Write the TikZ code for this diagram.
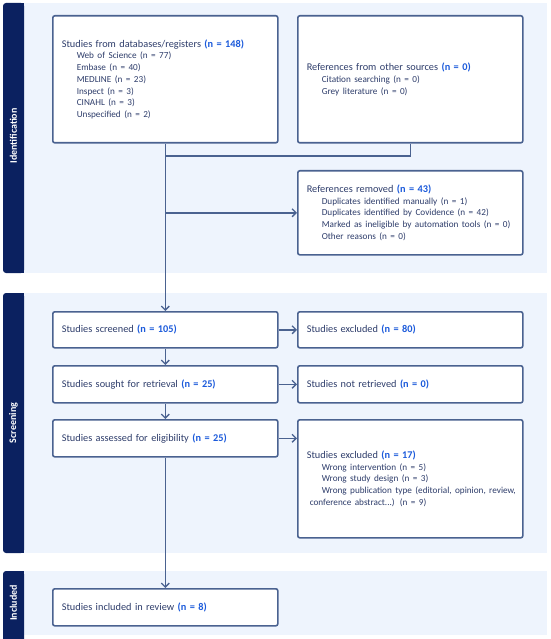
\documentclass[tikz,border=0pt]{standalone}
\usepackage{fontspec}
\setmainfont{Carlito}
\usetikzlibrary{arrows.meta,positioning}
\definecolor{bandnavy}{HTML}{0B2160}
\definecolor{panelblue}{HTML}{EEF4FD}
\definecolor{boxline}{HTML}{4A6290}
\definecolor{textnavy}{HTML}{2E3D6B}
\definecolor{countblue}{HTML}{1B5ADB}
\newcommand{\cnt}[1]{\textcolor{countblue}{\textbf{#1}}}
\newcommand{\subitm}{\fontsize{9.2}{11.7}\selectfont\hspace*{15pt}}
\tikzset{
	stagebox/.style={draw=boxline, line width=1.6pt, rounded corners=2pt, fill=white,
		text=textnavy, align=left, text width=207pt, inner xsep=9pt, inner ysep=0pt,
		anchor=north west, font=\fontsize{10.3}{11.7}\selectfont},
	flow/.style={draw=boxline, line width=1.6pt},
	flowarrow/.style={flow, -{Straight Barb[length=4pt,width=8pt,line width=1.3pt]}},
	bandlabel/.style={rotate=90, text=white, font=\fontsize{10}{12}\bfseries\selectfont}
}
\begin{document}
\begin{tikzpicture}[x=1pt,y=-1pt]
	\useasboundingbox (0,0) rectangle (550,639);
	% phase panels
	\fill[panelblue] (24,3) rectangle (547,273);
	\fill[panelblue] (24,293) rectangle (547,553);
	\fill[panelblue] (24,571) rectangle (547,635);
	\fill[bandnavy, rounded corners=3pt] (3,3) rectangle (24,273);
	\fill[bandnavy, rounded corners=3pt] (3,293) rectangle (24,553);
	\fill[bandnavy, rounded corners=3pt] (3,571) rectangle (24,645);
	\fill[bandnavy] (14,3) rectangle (24,273);
	\fill[bandnavy] (14,293) rectangle (24,553);
	\fill[bandnavy] (14,571) rectangle (24,635);
	\node[bandlabel] (lid) at (13.5,136) {Identification};
	\node[bandlabel] (lsc) at (13.5,423) {Screening};
	\node[bandlabel] (lin) at (13.5,603) {Included};

	% identification
	\node[stagebox, minimum height=127pt] (dbs) at (52,15) {Studies from databases/registers \cnt{(n = 148)}\\
		\subitm Web of Science (n = 77)\\
		\subitm Embase (n = 40)\\
		\subitm MEDLINE (n = 23)\\
		\subitm Inspect (n = 3)\\
		\subitm CINAHL (n = 3)\\
		\subitm Unspecified (n = 2)};
	\node[stagebox, minimum height=127pt] (other) at (297,15) {References from other sources \cnt{(n = 0)}\\
		\subitm Citation searching (n = 0)\\
		\subitm Grey literature (n = 0)};
	\node[stagebox, minimum height=84pt] (removed) at (297,170) {References removed \cnt{(n = 43)}\\
		\subitm Duplicates identified manually (n = 1)\\
		\subitm Duplicates identified by Covidence (n = 42)\\
		\subitm Marked as ineligible by automation tools (n = 0)\\
		\subitm Other reasons (n = 0)};

	% screening
	\node[stagebox, minimum height=36pt] (screened) at (52,311) {Studies screened \cnt{(n = 105)}};
	\node[stagebox, minimum height=36pt] (excl) at (297,311) {Studies excluded \cnt{(n = 80)}};
	\node[stagebox, minimum height=37pt] (sought) at (52,365) {Studies sought for retrieval \cnt{(n = 25)}};
	\node[stagebox, minimum height=37pt] (notret) at (297,365) {Studies not retrieved \cnt{(n = 0)}};
	\node[stagebox, minimum height=37pt] (assessed) at (52,419) {Studies assessed for eligibility \cnt{(n = 25)}};
	\node[stagebox, minimum height=118pt] (exclelig) at (297,419) {Studies excluded \cnt{(n = 17)}\\
		\subitm Wrong intervention (n = 5)\\
		\subitm Wrong study design (n = 3)\\
		\subitm \mbox{Wrong publication type (editorial, opinion, review,}\\
		\hspace*{3pt}conference abstract...) (n = 9)};

	% included
	\node[stagebox, minimum height=37pt] (incl) at (52,588) {Studies included in review \cnt{(n = 8)}};

	% connectors
	\coordinate (merge) at (dbs.south |- 0,156);
	\draw[flow] (other.south) |- (merge);
	\draw[flowarrow] (dbs.south) -- (screened.north);
	\draw[flowarrow] (dbs.south |- removed.west) -- (removed.west);
	\draw[flowarrow] (screened.east) -- (excl.west);
	\draw[flowarrow] (screened.south) -- (sought.north);
	\draw[flowarrow] (sought.east) -- (notret.west);
	\draw[flowarrow] (sought.south) -- (assessed.north);
	\draw[flowarrow] (assessed.east) -- (exclelig.west |- assessed.east);
	\draw[flowarrow] (assessed.south) -- (incl.north);
\end{tikzpicture}
\end{document}
